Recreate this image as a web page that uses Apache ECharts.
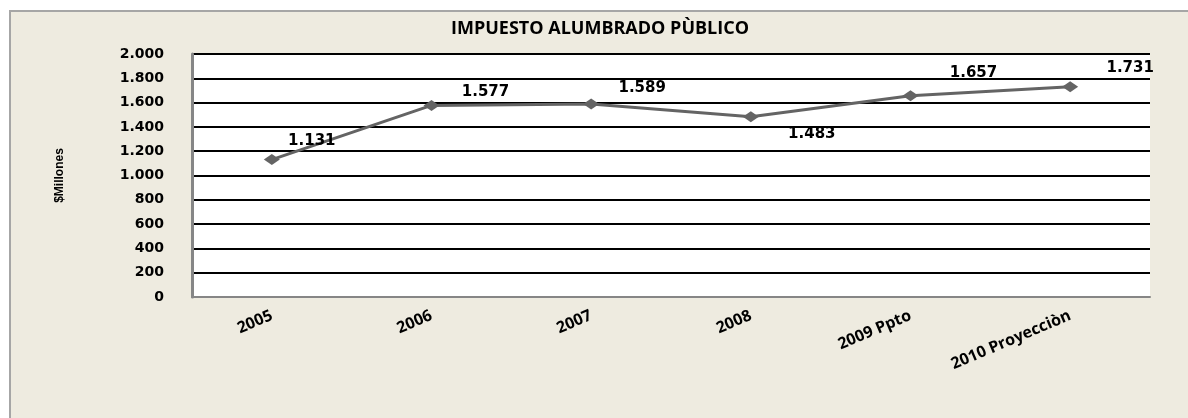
<!DOCTYPE html>
<html><head><meta charset="utf-8">
<script src="https://cdn.jsdelivr.net/npm/echarts@6/dist/echarts.min.js"></script>
<style>
html,body{margin:0;padding:0;background:#fff;width:1188px;height:418px;overflow:hidden;}
#frame{position:absolute;left:9px;top:10px;width:1179px;height:408px;background:#EEEBE0;border-top:2px solid #A6A6A6;border-left:2px solid #A6A6A6;box-sizing:border-box;}
#chart{position:absolute;left:0;top:0;width:1188px;height:418px;}
</style></head><body>
<div id="frame"></div><div id="chart"></div>
<script>
const categories = ['2005', '2006', '2007', '2008', '2009 Ppto', '2010 Proyecciòn'];
const values = [1131, 1577, 1589, 1483, 1657, 1731];
const yTickLabels = ['0', '200', '400', '600', '800', '1.000', '1.200', '1.400', '1.600', '1.800', '2.000'];
const labelOffsets = [[40, -18], [54, -13], [51, -16], [61, 17], [63, -23], [60, -19]];

function fmt(v) {
  return v >= 1000 ? Math.floor(v / 1000) + '.' + String(v % 1000).padStart(3, '0') : String(v);
}

const chart = echarts.init(document.getElementById('chart'));
chart.setOption({
  backgroundColor: 'transparent',
  animation: false,
  title: {
    text: 'IMPUESTO ALUMBRADO PÙBLICO',
    left: 600, top: 20, padding: 0, textAlign: 'center',
    textStyle: { fontFamily: 'Open Sans', fontWeight: 'bold', fontSize: 18, color: '#000' }
  },
  grid: { left: 192, right: 38, top: 54, bottom: 121, show: true, backgroundColor: '#fff', borderWidth: 0 },
  xAxis: {
    type: 'category', data: categories, boundaryGap: true,
    axisLine: { lineStyle: { color: '#868686', width: 2 } },
    axisTick: { show: false },
    axisLabel: { interval: 0, rotate: 23, margin: 18, fontFamily: 'Open Sans', fontWeight: 'bold', fontSize: 16, color: '#000' }
  },
  yAxis: {
    type: 'value', min: 0, max: 2000, interval: 200,
    name: '$Millones', nameLocation: 'middle', nameGap: 126, nameRotate: 90,
    nameTextStyle: { fontFamily: 'Liberation Sans', fontWeight: 'bold', fontSize: 12, color: '#000' },
    axisLine: { show: true, lineStyle: { color: '#868686', width: 3 } },
    axisTick: { show: false },
    splitLine: { lineStyle: { color: '#000', width: 2 } },
    axisLabel: { margin: 28, fontFamily: 'DejaVu Sans', fontWeight: 'bold', fontSize: 14, color: '#000',
      formatter: v => yTickLabels[Math.round(v / 200)] }
  },
  series: [{
    type: 'line',
    data: values.map((v, i) => ({ value: v, label: { offset: labelOffsets[i] } })),
    symbol: 'diamond', symbolSize: [16, 11],
    lineStyle: { color: '#646464', width: 3 },
    itemStyle: { color: '#646464' },
    label: { show: true, position: 'inside', fontFamily: 'DejaVu Sans', fontWeight: 'bold', fontSize: 15, color: '#000',
      formatter: p => fmt(p.value) }
  }]
});
</script></body></html>
